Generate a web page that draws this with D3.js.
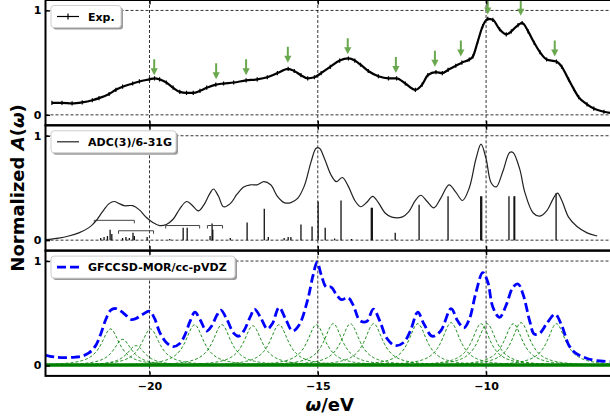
<!DOCTYPE html>
<html>
<head>
<meta charset="utf-8">
<script src="https://cdn.jsdelivr.net/npm/d3@7"></script>
<style>
  body { margin: 0; background: #fff; }
  svg { display: block; font-family: "DejaVu Sans", sans-serif; }
</style>
</head>
<body>
<div id="chart"></div>
<script>
// ---- data ----
const xTicks = [-20, -15, -10]
const yTicks = [0, 1]
const legendLabels = ['Exp.', 'ADC(3)/6-31G', 'GFCCSD-MOR/cc-pVDZ']

// experimental spectrum
const expE = [-22.9, -22.6, -22.3, -22.0, -21.7, -21.5, -21.2, -21.0, -20.8, -20.5, -20.3, -20.0, -19.85, -19.7,
  -19.5, -19.3, -19.1, -18.9, -18.7, -18.5, -18.3, -18.03, -17.8, -17.5, -17.13, -16.8, -16.5, -16.2, -15.88,
  -15.7, -15.5, -15.3, -15.1, -14.9, -14.63, -14.35, -14.09, -13.9, -13.73, -13.5, -13.2, -12.9, -12.66, -12.4,
  -12.1, -11.9, -11.73, -11.49, -11.3, -11.13, -10.9, -10.72, -10.5, -10.39, -10.25, -10.1, -9.95, -9.8, -9.6,
  -9.4, -9.25, -9.05, -8.93, -8.75, -8.57, -8.4, -8.2, -7.91, -7.75, -7.55, -7.4, -7.25, -7.0, -6.8, -6.5, -6.2]
const expA = [0.115, 0.115, 0.11, 0.12, 0.14, 0.16, 0.20, 0.24, 0.27, 0.30, 0.32, 0.34, 0.35, 0.34,
  0.31, 0.26, 0.22, 0.21, 0.21, 0.23, 0.26, 0.29, 0.30, 0.31, 0.33, 0.34, 0.36, 0.40, 0.44,
  0.42, 0.38, 0.35, 0.36, 0.40, 0.46, 0.52, 0.54, 0.52, 0.48, 0.42, 0.37, 0.35, 0.35, 0.30,
  0.24, 0.29, 0.38, 0.41, 0.40, 0.43, 0.47, 0.50, 0.53, 0.56, 0.70, 0.85, 0.92, 0.91, 0.82,
  0.77, 0.80, 0.86, 0.88, 0.80, 0.69, 0.60, 0.53, 0.51, 0.46, 0.34, 0.25, 0.17, 0.10, 0.06, 0.03, 0.015]
const expErr = 0.02

// green arrows (tip position)
const arrowE = [-19.86, -18.02, -17.13, -15.89, -14.11, -12.68, -11.52, -10.75, -9.95, -8.97, -7.96]
const arrowA = [0.38, 0.34, 0.38, 0.50, 0.58, 0.40, 0.46, 0.56, 0.96, 0.95, 0.56]

// ADC(3) broadened spectrum
const adcE = [-23.1, -22.7, -22.4, -22.1, -21.8, -21.6, -21.4, -21.2, -21.05, -20.9, -20.75, -20.5, -20.3, -20.1,
  -19.9, -19.7, -19.5, -19.3, -19.1, -18.9, -18.75, -18.55, -18.4, -18.2, -18.1, -17.95, -17.8, -17.6, -17.4,
  -17.2, -17.0, -16.8, -16.6, -16.4, -16.2, -16.0, -15.8, -15.6, -15.4, -15.2, -15.05, -14.95, -14.8, -14.6,
  -14.45, -14.27, -14.1, -13.9, -13.73, -13.55, -13.37, -13.2, -13.0, -12.8, -12.5, -12.3, -12.1, -11.94, -11.75,
  -11.55, -11.35, -11.1, -10.9, -10.7, -10.5, -10.3, -10.15, -10.0, -9.85, -9.7, -9.5, -9.3, -9.2, -9.0, -8.85,
  -8.6, -8.4, -8.2, -8.0, -7.88, -7.75, -7.55, -7.3, -7.0, -6.7]
const adcA = [0.005, 0.02, 0.04, 0.07, 0.12, 0.18, 0.27, 0.35, 0.37, 0.35, 0.33, 0.33, 0.29, 0.22,
  0.17, 0.14, 0.15, 0.20, 0.30, 0.37, 0.34, 0.28, 0.33, 0.45, 0.49, 0.42, 0.32, 0.35, 0.44,
  0.51, 0.53, 0.53, 0.56, 0.53, 0.42, 0.36, 0.36, 0.40, 0.52, 0.75, 0.88, 0.88, 0.78, 0.62,
  0.56, 0.60, 0.52, 0.38, 0.32, 0.36, 0.42, 0.36, 0.26, 0.22, 0.22, 0.27, 0.38, 0.43, 0.37,
  0.31, 0.40, 0.53, 0.46, 0.38, 0.50, 0.78, 0.92, 0.78, 0.55, 0.51, 0.66, 0.84, 0.84, 0.68, 0.46,
  0.26, 0.23, 0.28, 0.40, 0.45, 0.38, 0.22, 0.13, 0.07, 0.04]

// ADC(3) pole strengths (sticks)
const stickE = [-21.45, -21.35, -21.25, -21.17, -21.12, -20.8, -20.7, -20.6, -20.49, -20.45, -20.07, -19.4,
  -19.0, -18.88, -18.2, -18.14, -18.12, -17.6, -17.1, -16.59, -16.47, -16.0, -15.88, -15.8, -15.5, -15.17,
  -14.99, -14.78, -14.5, -14.31, -14.0, -13.41, -13.38, -12.70, -11.99, -11.13, -10.16, -10.13, -9.32, -9.17,
  -9.15, -7.92]
const stickA = [0.02, 0.03, 0.04, 0.10, 0.06, 0.02, 0.03, 0.02, 0.07, 0.04, 0.03, 0.01,
  0.12, 0.12, 0.04, 0.16, 0.10, 0.02, 0.17, 0.30, 0.03, 0.02, 0.03, 0.03, 0.15, 0.13,
  0.37, 0.12, 0.015, 0.38, 0.01, 0.31, 0.31, 0.07, 0.34, 0.42, 0.42, 0.42, 0.42, 0.42,
  0.42, 0.45]

// satellite bands drawn as bracket segments
const bandStart = [-21.64, -20.92, -19.52, -18.28]
const bandEnd = [-20.45, -19.88, -18.51, -17.83]
const bandA = [0.19, 0.09, 0.14, 0.14]

// GFCCSD-MOR total spectrum
const morE = [-23.1, -22.8, -22.5, -22.2, -22.0, -21.8, -21.6, -21.45, -21.3, -21.15, -21.0, -20.85, -20.7,
  -20.55, -20.4, -20.2, -20.0, -19.85, -19.7, -19.5, -19.3, -19.1, -18.95, -18.8, -18.65, -18.5, -18.3, -18.15,
  -18.0, -17.88, -17.7, -17.5, -17.35, -17.2, -17.0, -16.88, -16.7, -16.5, -16.35, -16.15, -15.95, -15.75,
  -15.55, -15.3, -15.15, -15.02, -14.9, -14.75, -14.6, -14.45, -14.3, -14.1, -13.95, -13.75, -13.55, -13.35,
  -13.15, -12.95, -12.7, -12.45, -12.25, -12.03, -11.85, -11.6, -11.35, -11.04, -10.85, -10.66, -10.5, -10.3,
  -10.1, -9.95, -9.8, -9.6, -9.4, -9.2, -9.05, -8.9, -8.7, -8.57, -8.4, -8.2, -7.95, -7.75, -7.55, -7.35,
  -7.1, -6.8, -6.14]
const morA = [0.10, 0.08, 0.075, 0.08, 0.09, 0.12, 0.19, 0.30, 0.44, 0.53, 0.545, 0.52, 0.48,
  0.44, 0.45, 0.49, 0.52, 0.45, 0.32, 0.22, 0.18, 0.21, 0.29, 0.42, 0.51, 0.44, 0.33, 0.38,
  0.48, 0.53, 0.44, 0.31, 0.28, 0.33, 0.47, 0.54, 0.46, 0.35, 0.40, 0.555, 0.44, 0.33,
  0.39, 0.63, 0.85, 0.99, 0.87, 0.75, 0.75, 0.68, 0.63, 0.65, 0.58, 0.43, 0.42, 0.54,
  0.42, 0.26, 0.19, 0.22, 0.33, 0.51, 0.40, 0.28, 0.33, 0.545, 0.43, 0.36, 0.44, 0.70,
  0.89, 0.80, 0.56, 0.46, 0.58, 0.75, 0.78, 0.68, 0.42, 0.30, 0.31, 0.40, 0.49, 0.38, 0.20, 0.12,
  0.08, 0.05, 0.035]

// individual GFCCSD-MOR poles (Lorentzian centre, height)
const peakE = [-21.16, -20.8, -20.4, -19.97, -18.66, -17.85, -16.93, -16.15, -15.04, -14.54, -14.03, -13.34,
  -12.03, -11.04, -10.15, -9.97, -9.19, -8.96, -7.91]
const peakA = [0.35, 0.25, 0.19, 0.35, 0.39, 0.39, 0.38, 0.39, 0.39, 0.40, 0.40, 0.40,
  0.40, 0.41, 0.40, 0.40, 0.40, 0.41, 0.40]
const peakHWHM = 0.33

// ---- layout ----
const width = 610, height = 419
const plotLeft = 45.5, plotRight = 616
const panelH = 125.3
const panelTops = [0, 125.3, 250.6]

const svg = d3.select('#chart')
              .append('svg')
              .attr('width', width)
              .attr('height', height)

const xScale = d3.scaleLinear()
                 .domain([-23.09, -6.14])
                 .range([plotLeft, plotRight])

const panels = panelTops.map((y0, i) => {
  const yScale = d3.scaleLinear()
                   .domain([-0.1, 1.1])
                   .range([y0 + panelH, y0])
  svg.append('clipPath')
     .attr('id', 'clip' + i)
     .append('rect')
     .attr('x', plotLeft)
     .attr('y', y0)
     .attr('width', plotRight - plotLeft)
     .attr('height', panelH)
  const g = svg.append('g')
  const plot = g.append('g').attr('clip-path', `url(#clip${i})`)
  return { y0, yScale, g, plot }
})

// grid
panels.forEach(p => {
  p.plot.selectAll('.vgrid')
        .data(xTicks)
        .join('line')
        .attr('x1', d => xScale(d)).attr('x2', d => xScale(d))
        .attr('y1', p.y0).attr('y2', p.y0 + panelH)
        .attr('stroke', '#000').attr('stroke-width', 0.8)
        .attr('stroke-dasharray', '3,2')
  p.plot.selectAll('.hgrid')
        .data(yTicks)
        .join('line')
        .attr('x1', plotLeft).attr('x2', plotRight)
        .attr('y1', d => p.yScale(d)).attr('y2', d => p.yScale(d))
        .attr('stroke', '#000').attr('stroke-width', 0.8)
        .attr('stroke-dasharray', '3,2')
})

// ---- panel 1: experiment ----
const expPanel = panels[0]
const expPts = expE.map((e, i) => [e, expA[i]])

expPanel.plot.append('g')
   .selectAll('line')
   .data(expPts)
   .join('line')
   .attr('x1', d => xScale(d[0])).attr('x2', d => xScale(d[0]))
   .attr('y1', d => expPanel.yScale(d[1] - expErr)).attr('y2', d => expPanel.yScale(d[1] + expErr))
   .attr('stroke', '#000').attr('stroke-width', 1.2)

expPanel.plot.append('path')
   .datum(expPts)
   .attr('d', d3.line().x(d => xScale(d[0])).y(d => expPanel.yScale(d[1])).curve(d3.curveMonotoneX))
   .attr('fill', 'none')
   .attr('stroke', '#000')
   .attr('stroke-width', 2.2)

const arrows = expPanel.plot.append('g')
                  .selectAll('g')
                  .data(arrowE.map((e, i) => [e, arrowA[i]]))
                  .join('g')
                  .attr('transform', d => `translate(${xScale(d[0])},${expPanel.yScale(d[1])})`)
arrows.append('line')
      .attr('x1', 0).attr('x2', 0).attr('y1', -16).attr('y2', -6)
      .attr('stroke', '#6aa84f').attr('stroke-width', 2)
arrows.append('path')
      .attr('d', 'M-3.6,-7 L3.6,-7 L0,0 Z')
      .attr('fill', '#6aa84f')

// ---- panel 2: ADC(3) ----
const adcPanel = panels[1]

adcPanel.plot.append('g')
   .selectAll('line')
   .data(stickE.map((e, i) => [e, stickA[i]]))
   .join('line')
   .attr('x1', d => xScale(d[0])).attr('x2', d => xScale(d[0]))
   .attr('y1', adcPanel.yScale(0)).attr('y2', d => adcPanel.yScale(d[1]))
   .attr('stroke', '#111').attr('stroke-width', 1.3)

adcPanel.plot.append('g')
   .selectAll('path')
   .data(bandStart.map((s, i) => [s, bandEnd[i], bandA[i]]))
   .join('path')
   .attr('d', d => {
     const x0 = xScale(d[0]), x1 = xScale(d[1]), yy = adcPanel.yScale(d[2])
     return `M${x0},${yy + 3}V${yy}H${x1}V${yy + 3}`
   })
   .attr('fill', 'none')
   .attr('stroke', '#444')
   .attr('stroke-width', 1)

adcPanel.plot.append('path')
   .datum(adcE.map((e, i) => [e, adcA[i]]))
   .attr('d', d3.line().x(d => xScale(d[0])).y(d => adcPanel.yScale(d[1])).curve(d3.curveCatmullRom.alpha(0.5)))
   .attr('fill', 'none')
   .attr('stroke', '#222')
   .attr('stroke-width', 1.2)

// ---- panel 3: GFCCSD-MOR ----
const morPanel = panels[2]
const grid = d3.range(xScale.domain()[0], xScale.domain()[1], 0.03)

morPanel.plot.append('g')
   .selectAll('path')
   .data(peakE.map((e, i) => [e, peakA[i]]))
   .join('path')
   .attr('d', d => d3.line()
                     .x(v => xScale(v))
                     .y(v => morPanel.yScale(d[1] / (1 + ((v - d[0]) / peakHWHM) ** 2)))(grid))
   .attr('fill', 'none')
   .attr('stroke', 'green')
   .attr('stroke-width', 0.9)
   .attr('stroke-dasharray', '3,2')

morPanel.plot.append('line')
   .attr('x1', plotLeft).attr('x2', plotRight)
   .attr('y1', morPanel.yScale(0.005)).attr('y2', morPanel.yScale(0.005))
   .attr('stroke', 'green').attr('stroke-width', 3.5)

morPanel.plot.append('path')
   .datum(morE.map((e, i) => [e, morA[i]]))
   .attr('d', d3.line().x(d => xScale(d[0])).y(d => morPanel.yScale(d[1])).curve(d3.curveCatmullRom.alpha(0.5)))
   .attr('fill', 'none')
   .attr('stroke', 'blue')
   .attr('stroke-width', 2.8)
   .attr('stroke-dasharray', '9,4')

// ---- frames, ticks ----
panels.forEach((p, i) => {
  const last = i === panels.length - 1
  const xb = p.g.append('g')
                .attr('transform', `translate(0,${p.y0 + panelH})`)
                .call(d3.axisBottom(xScale).tickValues(xTicks).tickSize(-4.5).tickPadding(6)
                        .tickFormat(last ? d3.format('d') : ''))
  const xt = p.g.append('g')
                .attr('transform', `translate(0,${p.y0})`)
                .call(d3.axisTop(xScale).tickValues(xTicks).tickSize(-4.5).tickFormat(''))
  const ya = p.g.append('g')
                .attr('transform', `translate(${plotLeft},0)`)
                .call(d3.axisLeft(p.yScale).tickValues(yTicks).tickSize(-4.5).tickPadding(4)
                        .tickFormat(d3.format('d')))
  ;[xb, xt, ya].forEach(a => {
    a.select('.domain').remove()
    a.selectAll('line').attr('stroke-width', 1.4)
    a.selectAll('text').attr('font-size', '11px').attr('font-weight', 'bold')
                       .attr('font-family', 'DejaVu Sans').attr('fill', '#000')
  })
  p.g.append('rect')
     .attr('x', plotLeft).attr('y', p.y0)
     .attr('width', plotRight - plotLeft).attr('height', panelH)
     .attr('fill', 'none').attr('stroke', '#000').attr('stroke-width', 2)
})

// ---- legends ----
const legendW = [70, 125, 184]
panels.forEach((p, i) => {
  const lg = p.g.append('g').attr('transform', `translate(51,${p.y0 + 5.5})`)
  lg.append('rect')
    .attr('x', 2).attr('y', 2).attr('width', legendW[i]).attr('height', 22).attr('rx', 3)
    .attr('fill', '#9a9a9a')
  lg.append('rect')
    .attr('width', legendW[i]).attr('height', 22).attr('rx', 3)
    .attr('fill', '#fff').attr('stroke', '#cfcfcf').attr('stroke-width', 1)
  const line = lg.append('line')
                 .attr('x1', 6).attr('x2', 28).attr('y1', 11).attr('y2', 11)
  if (i === 0) {
    line.attr('stroke', '#000').attr('stroke-width', 1.2)
    lg.append('line').attr('x1', 17).attr('x2', 17).attr('y1', 8).attr('y2', 14)
      .attr('stroke', '#000').attr('stroke-width', 1.2)
  } else if (i === 1) {
    line.attr('stroke', '#222').attr('stroke-width', 1.2)
  } else {
    line.attr('stroke', 'blue').attr('stroke-width', 2.8).attr('stroke-dasharray', '9,4')
  }
  lg.append('text')
    .attr('x', 37).attr('y', 15)
    .attr('font-size', '11px').attr('font-weight', 'bold')
    .text(legendLabels[i])
})

// ---- axis labels ----
const xl = svg.append('text')
              .attr('x', (plotLeft + plotRight) / 2 - 1)
              .attr('y', 410.5)
              .attr('text-anchor', 'middle')
              .attr('font-size', '18px')
              .attr('font-weight', 'bold')
xl.append('tspan').attr('font-style', 'italic').text('ω')
xl.append('tspan').text('/eV')

const yl = svg.append('text')
              .attr('transform', `translate(24,${(panelTops[0] + panelTops[2] + panelH) / 2}) rotate(-90)`)
              .attr('text-anchor', 'middle')
              .attr('font-size', '18px')
              .attr('font-weight', 'bold')
yl.append('tspan').text('Normalized ')
yl.append('tspan').attr('font-style', 'italic').text('A')
yl.append('tspan').text('(')
yl.append('tspan').attr('font-style', 'italic').text('ω')
yl.append('tspan').text(')')
</script>
</body>
</html>
